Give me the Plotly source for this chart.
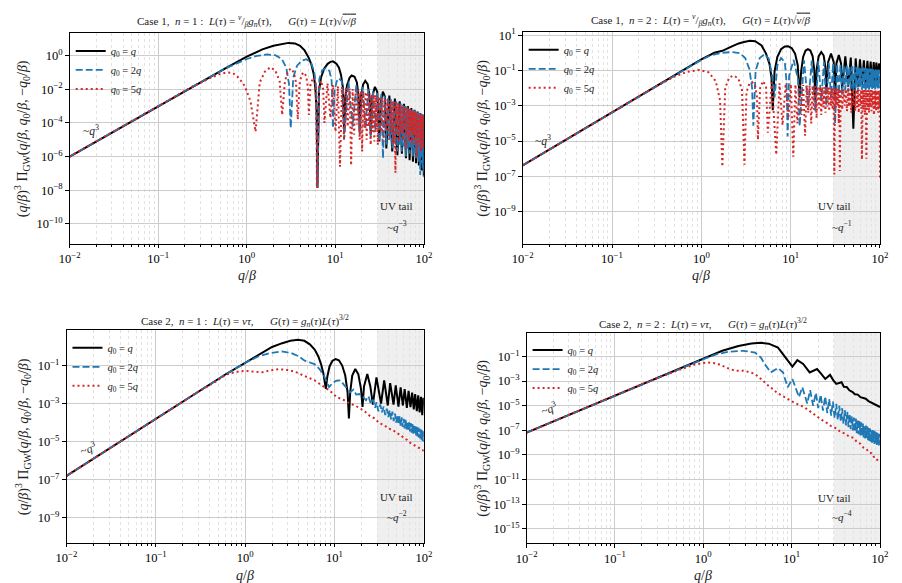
import plotly.graph_objects as go

# ---------------- data ----------------
# Panel 1: Case 1, n = 1
P1_BLACK_X = [0.01, 0.03, 0.1, 0.3, 0.6, 1.0, 1.5, 2.0, 2.5, 2.95, 3.5, 4.0, 4.5, 5.0, 5.36, 5.7, 5.95, 6.15, 6.28,
              6.55, 6.9, 7.5, 8.2, 8.8, 9.4, 10.3, 11.0, 11.6, 12.2, 12.57,
              13.0, 13.6, 14.5, 15.3, 16.5, 17.5, 18.3, 18.85,
              19.6, 20.6, 21.8, 23.2, 24.4, 25.13,
              26.2, 28.0, 29.8, 31.4, 32.6, 34.5, 36.4, 37.7,
              40.8, 44.0, 47.1, 50.3, 53.4, 56.5, 59.7, 62.8, 66.0, 69.1, 72.3, 75.4, 78.6, 81.7, 84.9, 88.0, 91.2, 94.2, 97.4, 100]
P1_BLACK_Y = [1e-6, 2.7e-5, 1e-3, 2.6e-2, 0.2, 0.85, 2.3, 3.8, 5.0, 5.6, 5.2, 3.8, 2.0, 0.75, 0.3, 0.08, 0.012, 5e-4, 1.4e-8,
              0.008, 0.05, 0.17, 0.32, 0.42, 0.45, 0.33, 0.19, 0.07, 0.012, 2.5e-5,
              0.0035, 0.018, 0.048, 0.065, 0.055, 0.026, 0.0045, 4e-5,
              0.004, 0.019, 0.031, 0.02, 0.0035, 2e-5,
              0.0037, 0.0138, 0.007, 8e-6, 0.0018, 0.0072, 0.0035, 3e-6,
              4.2e-3, 2e-6, 2.8e-3, 1.2e-6, 1.9e-3, 1.5e-6, 1.35e-3, 8e-7, 1.0e-3, 6e-7, 7.6e-4, 5e-7, 5.9e-4, 4e-7, 4.7e-4, 3e-7, 3.8e-4, 1.5e-7, 3.1e-4, 7e-8]

P1_BLUE_X = [0.01, 0.1, 0.3, 0.6, 0.8, 1.0, 1.3, 1.7, 2.1, 2.5, 2.8, 3.0, 3.14,
             3.35, 3.7, 4.2, 4.7, 5.3, 5.8, 6.1, 6.28,
             6.6, 7.1, 7.85, 8.6, 9.1, 9.42,
             9.8, 10.4, 11.0, 11.8, 12.3, 12.57,
             14.1, 15.7, 17.3, 18.85, 20.4, 22.0, 23.6, 25.1, 26.7, 28.3, 29.8, 31.4, 33.0, 34.6, 36.1, 37.7, 39.3, 40.8,
             42.4, 44.0, 45.6, 47.1, 48.7, 50.3, 51.8, 53.4, 55.0, 56.5, 58.1, 59.7, 61.3, 62.8, 64.4, 66.0, 67.5, 69.1,
             70.7, 72.3, 73.8, 75.4, 77.0, 78.5, 80.1, 81.7, 83.3, 84.8, 86.4, 88.0, 89.5, 91.1, 92.7, 94.2, 95.8, 97.4,
             99.0, 100]
P1_BLUE_Y = [1e-6, 1e-3, 2.6e-2, 0.19, 0.38, 0.62, 0.95, 1.15, 1.05, 0.6, 0.18, 0.02, 5e-5,
             0.05, 0.25, 0.5, 0.6, 0.4, 0.1, 0.01, 1.5e-8,
             0.04, 0.13, 0.18, 0.12, 0.03, 5e-5,
             0.008, 0.03, 0.045, 0.03, 0.006, 1e-5,
             0.028, 6e-5, 0.019, 2e-5, 0.0135, 5e-5, 0.01, 1.5e-5, 0.0079, 3e-5, 0.0063, 8e-6, 0.005, 8e-7, 0.004, 5e-6, 0.0032, 1e-5,
             0.0026, 3e-6, 0.0022, 6e-6, 0.0019, 2e-6, 0.0016, 5e-6, 0.0014, 2e-6, 0.0012, 4e-6, 0.00105, 1e-6, 0.00092, 3e-6, 0.00081, 1.5e-6,
             0.00072, 3e-6, 0.00065, 1e-6, 0.00058, 2e-6, 0.00052, 8e-7, 0.00047, 1.5e-6, 0.00043, 5e-7, 0.00039, 8e-8, 0.00035, 4e-7, 0.00032, 2e-7,
             0.0003, 6e-8]

P1_RED_X = [0.01, 0.1, 0.25, 0.4, 0.5, 0.6, 0.7, 0.82, 0.95, 1.1, 1.2, 1.257,
            1.4, 1.6, 1.85, 2.1, 2.35, 2.51,
            2.7, 2.9, 3.14, 3.4, 3.6, 3.77,
            3.95, 4.15, 4.4, 4.7, 4.9, 5.03,
            5.25, 5.65, 6.0, 6.28,
            6.5, 6.9, 7.3, 7.54,
            8.17, 8.8, 9.42, 10.05, 10.7, 11.3, 11.9, 12.57, 13.2, 13.8, 14.5, 15.1, 15.7, 16.3, 17.0, 17.6, 18.2, 18.85,
            19.5, 20.1, 20.7, 21.4, 22.0, 22.6, 23.2, 23.9, 24.5, 25.1, 25.8, 26.4, 27.0, 27.6, 28.3, 28.9, 29.5, 30.2,
            31.4, 32.7, 33.9, 35.2, 36.4, 37.7, 38.9, 40.2, 41.5, 42.7, 44.0, 45.2, 46.5, 47.8, 49.0, 50.3, 51.5, 52.8,
            54.0, 55.3, 56.5, 57.8, 59.1, 60.3, 61.6, 62.8, 64.1, 65.3, 66.6, 67.9, 69.1, 70.4, 71.6, 72.9, 74.1, 75.4,
            76.7, 77.9, 79.2, 80.4, 81.7, 82.9, 84.2, 85.5, 86.7, 88.0, 89.2, 90.5, 91.7, 93.0, 94.2, 95.5, 96.8, 98.0,
            99.3, 100]
P1_RED_Y = [1e-6, 1e-3, 0.0155, 0.05, 0.08, 0.1, 0.09, 0.045, 0.015, 0.002, 1.5e-4, 3e-5,
            0.025, 0.11, 0.2, 0.13, 0.03, 3e-4,
            0.03, 0.11, 0.17, 0.1, 0.025, 1.6e-4,
            0.02, 0.07, 0.1, 0.06, 0.012, 3e-4,
            0.02, 0.05, 0.02, 1.4e-8,
            0.012, 0.032, 0.01, 1e-4,
            0.022, 2e-4, 0.018, 3e-5, 0.015, 2.5e-7, 0.0135, 1e-5, 0.0122, 6e-5, 0.011, 3e-7, 0.0102, 2e-5, 0.0095, 8e-5, 0.0088, 1e-5,
            0.0082, 2e-6, 0.0076, 5e-5, 0.007, 1e-5, 0.0064, 6e-5, 0.0058, 5e-6, 0.0053, 3e-5, 0.0049, 8e-6, 0.0045, 4e-5, 0.0041, 5e-6,
            3.6e-3, 3e-5, 3.2e-3, 8e-6, 2.8e-3, 4e-5, 2.5e-3, 1e-5, 2.2e-3, 3e-5, 1.95e-3, 6e-6, 1.75e-3, 1.1e-7, 1.55e-3, 2e-5, 1.4e-3, 8e-6,
            1.25e-3, 3e-5, 1.12e-3, 1e-5, 1.0e-3, 4e-5, 9e-4, 3e-6, 8.2e-4, 2e-5, 7.4e-4, 8e-6, 6.7e-4, 3e-5, 6.1e-4, 5e-6, 5.6e-4, 2e-5,
            5.1e-4, 6e-6, 4.7e-4, 2e-5, 4.3e-4, 1e-6, 4.0e-4, 1.5e-5, 3.7e-4, 4e-6, 3.4e-4, 1e-5, 3.2e-4, 2e-6, 3.0e-4, 8e-6, 2.8e-4, 3e-6,
            2.6e-4, 5e-5]

# Panel 2: Case 1, n = 2
P2_BLACK_X = [0.01, 0.1, 0.3, 0.6, 1.0, 1.4, 1.72, 2.2, 2.62, 3.0, 3.5, 4.0, 4.72, 5.3, 5.8, 6.1, 6.3,
              6.6, 7.1, 7.8, 8.6, 9.4, 10.3, 11.2, 12.0, 12.57,
              13.1, 13.8, 14.7, 15.6, 16.6, 17.6, 18.4, 18.85,
              19.6, 20.6, 22.0, 23.4, 24.5, 25.13,
              26.3, 28.3, 30.3, 31.4, 32.5, 34.6, 36.6, 37.7,
              40.9, 44.0, 47.1, 50.3, 53.4, 56.5, 59.7, 62.8, 66.0, 69.1, 72.3, 75.4, 78.6, 81.7, 85.0, 88.0, 91.1, 94.2, 97.4, 100]
P2_BLACK_Y = [4.2e-7, 4.2e-4, 1.13e-2, 0.09, 0.42, 1.0, 1.3, 2.3, 3.4, 4.1, 4.8, 4.5, 2.6, 0.9, 0.23, 0.04, 5.6e-4,
              0.09, 0.6, 1.6, 2.3, 2.35, 1.8, 0.9, 0.2, 3e-3,
              0.09, 0.6, 1.35, 1.6, 1.35, 0.65, 0.1, 2e-3,
              0.13, 0.65, 1.1, 0.7, 0.15, 6e-3,
              0.3, 0.9, 0.3, 2.5e-3, 0.25, 0.74, 0.25, 1e-2,
              0.63, 1.2e-2, 0.54, 5e-5, 0.48, 1.2e-2, 0.43, 1.5e-2, 0.38, 1e-2, 0.35, 2e-2, 0.32, 1.5e-2, 0.3, 2.5e-2, 0.28, 2e-2, 0.25, 0.1]

P2_BLUE_X = [0.01, 0.1, 0.3, 0.6, 1.0, 1.3, 1.7, 2.2, 2.7, 3.1, 3.45, 3.7, 3.82,
             4.05, 4.5, 5.1, 5.7, 6.2, 6.6,
             7.1, 7.8, 8.6, 9.0, 9.25,
             9.6, 10.8, 12.1, 12.6,
             14.1, 15.7, 17.2, 18.9, 20.4, 22.0, 23.6, 25.1, 26.7, 28.3, 29.9, 31.4, 33.0, 34.6, 36.1, 37.7, 39.3, 40.8,
             42.4, 44.0, 45.6, 47.1, 48.7, 50.3, 51.8, 53.4, 55.0, 56.5, 58.1, 59.7, 61.3, 62.8, 64.4, 66.0, 67.5, 69.1,
             70.7, 72.3, 73.8, 75.4, 77.0, 78.5, 80.1, 81.7, 83.3, 84.8, 86.4, 88.0, 89.5, 91.1, 92.7, 94.2, 95.8, 97.4,
             99.0, 100]
P2_BLUE_Y = [4.2e-7, 4.2e-4, 1.13e-2, 0.09, 0.4, 0.75, 1.0, 1.1, 0.95, 0.5, 0.12, 0.01, 7.5e-5,
             0.1, 0.5, 0.85, 0.45, 0.05, 3e-3,
             0.2, 0.5, 0.3, 0.02, 1.8e-5,
             0.05, 0.4, 0.03, 7e-5,
             0.38, 1e-3, 0.36, 5e-4, 0.35, 2e-3, 0.3, 1e-3, 0.27, 3e-3, 0.25, 1e-4, 0.23, 5e-3, 0.21, 4e-3, 0.2, 8e-3,
             0.19, 6e-3, 0.18, 9e-3, 0.175, 7e-3, 0.17, 1e-2, 0.16, 6e-3, 0.155, 1e-2, 0.15, 8e-3, 0.145, 1e-2, 0.14, 7e-3,
             0.135, 1e-2, 0.13, 8e-3, 0.128, 1.1e-2, 0.125, 9e-3, 0.122, 1e-2, 0.12, 8e-3, 0.118, 1e-2, 0.115, 9e-3, 0.112, 1e-2,
             0.11, 0.03]

P2_RED_X = [0.01, 0.1, 0.3, 0.5, 0.7, 0.95, 1.2, 1.45, 1.62, 1.72,
            1.85, 2.05, 2.3, 2.6, 2.85, 3.04,
            3.2, 3.45, 3.7, 4.0, 4.2, 4.3,
            4.55, 4.9, 5.3, 5.55,
            6.15, 6.9, 7.5, 8.1, 8.8, 9.4, 10.05, 10.7, 11.3, 11.9, 12.6, 13.2, 13.8, 14.5, 15.1, 15.7, 16.3, 17.0,
            17.6, 18.2, 18.9, 19.5, 20.1, 20.8, 21.4, 22.0, 22.6, 23.3, 23.9, 24.5, 25.1, 25.8, 26.4, 27.0, 27.7, 28.3,
            28.9, 29.5, 30.2, 30.8, 31.4, 32.1, 32.7, 33.3, 34.0, 34.6, 35.2, 35.5,
            36.4, 37.7, 39.0, 40.2, 41.5, 42.7, 44.0, 45.2, 46.5, 47.7, 49.0, 50.3, 51.5, 52.8, 54.0, 55.3, 56.5, 57.8,
            59.0, 60.3, 61.6, 62.8, 64.1, 65.3, 66.6, 67.8, 69.1, 70.4, 71.6, 72.9, 74.1, 75.4, 76.6, 77.9, 79.2, 80.4,
            81.7, 82.9, 84.2, 85.5, 86.7, 88.0, 89.2, 90.5, 91.7, 93.0, 94.2, 95.5, 96.8, 98.0, 99.3, 100]
P2_RED_Y = [4.2e-7, 4.2e-4, 1.13e-2, 0.045, 0.085, 0.107, 0.08, 0.025, 0.002, 3.6e-7,
            0.01, 0.04, 0.051, 0.035, 0.008, 4.6e-7,
            0.006, 0.018, 0.022, 0.014, 0.003, 1.2e-5,
            0.01, 0.025, 0.012, 3e-5,
            0.021, 1.7e-6, 0.019, 8e-5, 0.018, 2e-4, 0.017, 1.3e-6, 0.016, 1e-4, 0.0155, 3e-4, 0.015, 2e-5, 0.0145, 4e-4, 0.014, 1e-4,
            0.0135, 6e-4, 0.013, 2e-4, 0.0125, 7e-4, 0.012, 3e-4, 0.0117, 8e-4, 0.0114, 4e-4, 0.011, 9e-4, 0.0107, 5e-4, 0.0104, 1e-3,
            0.0101, 6e-4, 0.0098, 1.3e-7, 0.0096, 8e-4, 0.0094, 1e-3, 0.0092, 1e-4, 0.009, 2e-7,
            0.0089, 6e-4, 0.0088, 1e-3, 0.0087, 5e-4, 0.0086, 9e-4, 0.0085, 4e-4, 0.0084, 1e-3, 0.0083, 5e-4, 0.0082, 8e-4, 0.0082, 4e-4,
            0.0081, 1e-3, 0.008, 9e-7, 0.008, 6e-4, 0.0079, 3e-4, 0.0079, 1e-6, 0.0078, 7e-4, 0.0078, 4e-4, 0.0077, 9e-4, 0.0077, 5e-4,
            0.0076, 1e-3, 0.0076, 3e-4, 0.0075, 8e-4, 0.0075, 5e-4, 0.0074, 1e-3, 0.0074, 4e-4, 0.0073, 7e-4, 0.0073, 8e-8]

# Panel 3: Case 2, n = 1
P3_BLACK_X = [0.01, 0.1, 0.3, 0.6, 1.0, 1.5, 2.0, 2.6, 3.2, 3.9, 4.6, 5.3, 6.0, 6.6, 7.07, 7.5, 7.8, 8.0,
              8.3, 8.8, 9.5, 10.3, 11.2, 12.2, 13.2, 14.0, 14.5,
              15.0, 15.8, 17.1, 18.5, 19.8, 20.6,
              21.4, 23.3, 25.2, 26.9,
              29.5, 33.2, 36.0, 39.5, 42.0, 45.8, 48.5, 52.0, 55.0, 58.3, 61.0, 64.6, 67.5, 70.9, 74.0, 77.2, 80.0, 83.5,
              86.5, 89.8, 93.0, 96.1, 99.0, 100]
P3_BLACK_Y = [1.6e-7, 1.6e-4, 4.3e-3, 0.034, 0.14, 0.45, 0.95, 1.5, 2.0, 2.24, 2.0, 1.3, 0.7, 0.3, 0.12, 0.04, 0.012, 6e-3,
              0.025, 0.09, 0.18, 0.22, 0.19, 0.1, 0.03, 4e-3, 1.7e-4,
              4e-3, 0.03, 0.066, 0.035, 6e-3, 6.8e-4,
              8e-3, 0.036, 8e-3, 9e-4,
              0.024, 1e-3, 0.0166, 8e-4, 0.012, 9e-4, 0.0091, 7e-4, 0.0072, 8e-4, 0.0058, 6e-4, 0.0047, 6.5e-4, 0.0038, 5e-4, 0.0032, 4e-4,
              0.0027, 3.5e-4, 0.0023, 2.5e-4, 0.002, 1e-3]

P3_BLUE_X = [0.01, 0.1, 0.3, 0.6, 1.0, 1.4, 1.9, 2.58, 3.3, 4.0, 4.64, 5.3, 5.97, 6.8, 7.6, 8.7, 9.5, 10.5, 11.7, 12.7,
             13.8, 15.0, 16.3, 17.5, 19.0, 21.0,
             22.5, 24.0, 25.5, 27.0, 28.5, 29.5, 31.0, 32.5, 34.0, 35.5, 37.0, 38.5, 40.0, 41.5, 43.0, 44.5, 46.0, 47.5,
             49.0, 50.5, 52.0, 53.5, 55.0, 56.5, 58.0, 59.5, 61.0, 62.5, 64.0, 65.5, 67.0, 68.5, 70.0, 71.5, 73.0, 74.5,
             76.0, 77.5, 79.0, 80.5, 82.0, 83.5, 85.0, 86.5, 88.0, 89.5, 91.0, 92.5, 94.0, 95.5, 97.0, 98.5, 100]
P3_BLUE_Y = [1.6e-7, 1.6e-4, 4.3e-3, 0.034, 0.14, 0.3, 0.45, 0.55, 0.45, 0.3, 0.18, 0.14, 0.12, 0.066, 0.03, 7.4e-3, 0.012, 0.016, 0.0166, 0.01,
             6.3e-3, 4e-3, 5.5e-3, 3e-3, 3.2e-3, 2.2e-3,
             1.5e-3, 2.5e-3, 1e-3, 1.6e-3, 6e-4, 1.2e-3, 4e-4, 9e-4, 3.5e-4, 7e-4, 2.5e-4, 5.5e-4, 2e-4, 4.5e-4, 1.5e-4, 3.8e-4, 1.2e-4, 3e-4,
             1e-4, 2.6e-4, 8e-5, 2.2e-4, 7e-5, 1.9e-4, 6e-5, 1.6e-4, 5e-5, 1.4e-4, 4.5e-5, 1.2e-4, 4e-5, 1.05e-4, 3.5e-5, 9.5e-5, 3e-5, 8.5e-5,
             2.7e-5, 7.5e-5, 2.4e-5, 6.8e-5, 2.1e-5, 6e-5, 1.9e-5, 5.5e-5, 1.7e-5, 5e-5, 1.5e-5, 4.5e-5, 1.3e-5, 4e-5, 1.1e-5, 3.5e-5, 1e-5]

P3_RED_X = [0.01, 0.1, 0.3, 0.44, 0.62, 0.86, 1.02, 1.3, 1.56, 1.9, 2.37, 3.0, 3.6, 4.5, 5.5, 6.0, 7.0, 8.2, 9.0, 10.6,
            12.6, 15.0, 17.0, 19.4, 22.0, 25.0, 28.0, 32.0, 36.0, 40.0, 45.0, 50.0, 55.0, 60.0, 65.0, 70.0, 75.0, 80.0, 85.0, 90.0,
            95.0, 100]
P3_RED_Y = [1.6e-7, 1.6e-4, 4.3e-3, 0.012, 0.035, 0.05, 0.053, 0.047, 0.045, 0.055, 0.065, 0.058, 0.048, 0.03, 0.02, 0.0166, 0.01, 6.3e-3, 4.5e-3, 2.2e-3,
            1.6e-3, 1e-3, 8e-4, 5.6e-4, 3.8e-4, 2.2e-4, 1.7e-4, 9.3e-5, 7.5e-5, 5e-5, 4.2e-5, 2.8e-5, 2.3e-5, 1.5e-5, 1.25e-5, 9e-6, 7.5e-6, 6e-6, 5e-6, 4.5e-6,
            3.6e-6, 3.5e-6]

# Panel 4: Case 2, n = 2
P4_BLACK_X = [0.01, 0.1, 0.3, 0.6, 1.0, 1.64, 2.5, 3.5, 4.5, 5.5, 7.0, 8.6, 10.2, 11.6, 13.5, 16.0, 19.4, 21.5, 24.0, 27.2,
              29.5, 32.0, 36.7, 39.0, 42.0, 45.0, 49.0, 52.0, 56.0, 60.0, 64.0, 69.0, 74.0, 80.0, 86.0, 93.0, 100]
P4_BLACK_Y = [6.6e-8, 6.6e-5, 1.8e-3, 0.014, 0.062, 0.29, 0.72, 1.15, 1.3, 1.1, 0.52, 0.083, 0.015, 0.05, 0.025, 5.1e-3, 9.5e-3, 4e-3, 1.5e-3, 3.2e-3,
              1.2e-3, 6e-4, 8.1e-4, 3.5e-4, 3.3e-4, 1.8e-4, 1.3e-4, 8.5e-5, 8e-5, 5e-5, 4.6e-5, 3.7e-5, 2.4e-5, 1.8e-5, 1.3e-5, 1e-5, 7.9e-6]

P4_BLUE_X = [0.01, 0.1, 0.3, 0.6, 1.0, 1.4, 2.0, 2.85, 3.85, 4.5, 4.96, 5.8, 7.0, 8.0, 9.0, 10.2, 12.1, 13.2, 15.0,
             16.2, 17.5, 18.8, 20.0, 21.3, 22.6, 24.0, 25.3, 26.6, 28.0, 29.3, 30.6, 32.0, 33.3, 34.6, 36.0, 37.3, 38.6,
             40.0, 41.3, 42.6, 44.0, 45.3, 46.6, 48.0, 49.3, 50.6, 52.0, 53.3, 54.6, 56.0, 57.3, 58.6, 60.0, 61.3, 62.6,
             64.0, 65.3, 66.6, 68.0, 69.3, 70.6, 72.0, 73.3, 74.6, 76.0, 77.3, 78.6, 80.0, 81.3, 82.6, 84.0, 85.3, 86.6,
             88.0, 89.3, 90.6, 92.0, 93.3, 94.6, 96.0, 97.3, 98.6, 100]
P4_BLUE_Y = [6.6e-8, 6.6e-5, 1.8e-3, 0.014, 0.06, 0.15, 0.25, 0.29, 0.21, 0.08, 0.024, 5.1e-3, 0.0115, 5e-3, 3.2e-4, 1.5e-3, 5.1e-5, 3.2e-4, 1.5e-5,
             1.8e-4, 1e-5, 1.1e-4, 6.3e-6, 8e-5, 4e-6, 5.6e-5, 2.5e-6, 3.5e-5, 1.6e-6, 2.2e-5, 1e-6, 1.4e-5, 7e-7, 1e-5, 5e-7, 6.3e-6, 3.5e-7,
             4.5e-6, 2.5e-7, 3.2e-6, 1.8e-7, 2.2e-6, 1.25e-7, 1.4e-6, 1e-7, 1.1e-6, 7.6e-8, 9e-7, 6e-8, 7e-7, 4.8e-8, 5.6e-7, 3.8e-8, 4.5e-7, 3.2e-8,
             3.5e-7, 2.6e-8, 2.8e-7, 2.2e-8, 2.5e-7, 1.9e-8, 2e-7, 1.6e-8, 1.7e-7, 1.35e-8, 1.4e-7, 1.2e-8, 1.2e-7, 1e-8, 1.05e-7, 9e-9, 9e-8, 8e-9,
             8e-8, 7.2e-9, 7e-8, 6.6e-9, 6.3e-8, 6.3e-9, 5.8e-8, 6e-9, 5.2e-8, 1e-8]

P4_RED_X = [0.01, 0.1, 0.33, 0.59, 0.8, 1.1, 1.4, 1.64, 2.0, 2.31, 2.85, 3.3, 3.85, 4.5, 5.4, 7.0, 9.0, 11.0, 13.8, 16.0,
            19.4, 22.0, 25.0, 28.0, 32.0, 36.0, 40.0, 45.0, 50.0, 55.0, 60.0, 65.0, 70.0, 75.0, 80.0, 85.0, 90.0, 95.0, 100]
P4_RED_Y = [6.6e-8, 6.6e-5, 2.4e-3, 0.0105, 0.022, 0.033, 0.028, 0.018, 0.0095, 7e-3, 7e-3, 5.5e-3, 3.8e-3, 1.5e-3, 4.5e-4, 1e-4, 3.7e-5, 1.6e-5, 7.9e-6, 3.5e-6,
            1.26e-6, 7e-7, 4e-7, 2.2e-7, 1.45e-7, 7e-8, 5.6e-8, 3e-8, 2.5e-8, 1.1e-8, 8e-9, 4e-9, 3.2e-9, 1.6e-9, 1.4e-9, 7e-10, 6.3e-10, 3e-10, 3.5e-10]

SERIES_NAMES = ["<i>q</i><sub>0</sub> = <i>q</i>", "<i>q</i><sub>0</sub> = 2<i>q</i>", "<i>q</i><sub>0</sub> = 5<i>q</i>"]
X_TICK_EXP = [-2, -1, 0, 1, 2]
UV_BAND = [30, 100]

PANEL_TITLES = [
    "Case 1,\u2002<i>n</i> = 1 :\u2002<i>L</i>(<i>τ</i>) = <sup><i>v</i></sup>/<sub><i>β</i></sub><i>g</i><sub><i>n</i></sub>(<i>τ</i>),\u2003\u2002<i>G</i>(<i>τ</i>) = <i>L</i>(<i>τ</i>)√<span style='text-decoration:overline'><i>v</i>/<i>β</i></span>",
    "Case 1,\u2002<i>n</i> = 2 :\u2002<i>L</i>(<i>τ</i>) = <sup><i>v</i></sup>/<sub><i>β</i></sub><i>g</i><sub><i>n</i></sub>(<i>τ</i>),\u2003\u2002<i>G</i>(<i>τ</i>) = <i>L</i>(<i>τ</i>)√<span style='text-decoration:overline'><i>v</i>/<i>β</i></span>",
    "Case 2,\u2002<i>n</i> = 1 :\u2002<i>L</i>(<i>τ</i>) = <i>vτ</i>,\u2003\u2002<i>G</i>(<i>τ</i>) = <i>g</i><sub><i>n</i></sub>(<i>τ</i>)<i>L</i>(<i>τ</i>)<sup>3/2</sup>",
    "Case 2,\u2002<i>n</i> = 2 :\u2002<i>L</i>(<i>τ</i>) = <i>vτ</i>,\u2003\u2002<i>G</i>(<i>τ</i>) = <i>g</i><sub><i>n</i></sub>(<i>τ</i>)<i>L</i>(<i>τ</i>)<sup>3/2</sup>",
]
UV_SLOPES = ["−3", "−1", "−2", "−4"]
Y_TICK_EXP = [[0, -2, -4, -6, -8, -10], [1, -1, -3, -5, -7, -9], [-1, -3, -5, -7, -9],
              [-1, -3, -5, -7, -9, -11, -13, -15]]

DATA = [
    [(P1_BLACK_X, P1_BLACK_Y), (P1_BLUE_X, P1_BLUE_Y), (P1_RED_X, P1_RED_Y)],
    [(P2_BLACK_X, P2_BLACK_Y), (P2_BLUE_X, P2_BLUE_Y), (P2_RED_X, P2_RED_Y)],
    [(P3_BLACK_X, P3_BLACK_Y), (P3_BLUE_X, P3_BLUE_Y), (P3_RED_X, P3_RED_Y)],
    [(P4_BLACK_X, P4_BLACK_Y), (P4_BLUE_X, P4_BLUE_Y), (P4_RED_X, P4_RED_Y)],
]

# ---------------- layout / style ----------------
W, H = 902, 583
FONT = "Liberation Serif"
COLORS = ["#000000", "#1f77b4", "#d62728"]
DASHES = ["solid", "7px,3px", "2px,3px"]
WIDTHS = [2.0, 1.8, 2.0]

# plot-area boxes in pixels: (left, right, top, bottom), and log10 y ranges
BOXES = [(60, 421.7, 27.7, 240), (522.7, 887.7, 26.6, 240),
         (56.7, 421.7, 327.7, 542.3), (526.7, 887.7, 330, 542.7)]
YRANGES = [[-11.16, 1.31], [-10.8, 1.16], [-10.3, 0.85], [-16.16, 0.94]]
TITLE_Y = [15, 14, 318, 321]
XTITLE_Y = [272, 272, 575, 575]
YTITLE_X = [12, 481, 12, 481]
Q3_POS = [(82, 126, 0), (543, 136, 0), (79, 447, -18), (550, 407, -18)]


def px(x):
    return x / W


def py(y):
    return 1 - y / H


def pow_label(e):
    return "10<sup>" + ("−" if e < 0 else "") + str(abs(e)) + "</sup>"


fig = go.Figure()
minor_vals = [m * 10.0 ** k for k in (-2, -1, 0, 1) for m in range(2, 10)]
annotations = []
shapes = []
GRID = "#cccccc"

for i in range(4):
    s = "" if i == 0 else str(i + 1)
    l, r, t, b = BOXES[i]
    leg = "legend" if i == 0 else f"legend{i + 1}"
    for j, (xs, ys) in enumerate(DATA[i]):
        fig.add_trace(go.Scatter(
            x=xs, y=ys, mode="lines", name=SERIES_NAMES[j],
            line=dict(color=COLORS[j], width=WIDTHS[j], dash=DASHES[j]),
            xaxis="x" + s, yaxis="y" + s, legend=leg, showlegend=True,
            hoverinfo="skip"))
    axis_common = dict(
        type="log", showline=True, linecolor="black", linewidth=1, mirror=True,
        ticks="outside", ticklen=3.5, tickcolor="black", zeroline=False,
        showgrid=True, gridcolor=GRID, gridwidth=1,
        tickfont=dict(family=FONT, size=12.5, color="black"))
    fig.update_layout(**{
        "xaxis" + s: dict(axis_common, domain=[px(l), px(r)], anchor="y" + s, range=[-2, 2],
                          tickvals=[10.0 ** e for e in X_TICK_EXP],
                          ticktext=[pow_label(e) for e in X_TICK_EXP],
                          minor=dict(tickvals=minor_vals, showgrid=True, griddash="dot",
                                     gridcolor="#e2e2e2", gridwidth=0.8, ticks="outside",
                                     ticklen=2, tickcolor="black")),
        "yaxis" + s: dict(axis_common, domain=[py(b), py(t)], anchor="x" + s, range=YRANGES[i],
                          tickvals=[10.0 ** e for e in Y_TICK_EXP[i]],
                          ticktext=[pow_label(e) for e in Y_TICK_EXP[i]]),
        leg: dict(x=px(l + 1), y=py(t + 3), xanchor="left", yanchor="top",
                  bgcolor="rgba(0,0,0,0)", borderwidth=0, tracegroupgap=0,
                  itemwidth=30, font=dict(family=FONT, size=10.5, color="#222")),
    })
    shapes.append(dict(type="rect", xref="x" + s, yref=f"y{s} domain",
                       x0=UV_BAND[0], x1=UV_BAND[1], y0=0, y1=1,
                       fillcolor="#efefef", line=dict(width=0), layer="below"))
    cx = (l + r) / 2
    annotations += [
        dict(text=PANEL_TITLES[i], x=px(cx), y=py(TITLE_Y[i]), xref="paper", yref="paper",
             showarrow=False, xanchor="center", yanchor="middle",
             font=dict(family=FONT, size=11, color="#222")),
        dict(text="<i>q</i>/<i>β</i>", x=px(cx), y=py(XTITLE_Y[i]), xref="paper", yref="paper",
             showarrow=False, xanchor="center", yanchor="middle",
             font=dict(family=FONT, size=14, color="#222")),
        dict(text="(<i>q</i>/<i>β</i>)<sup>3</sup> Π<sub>GW</sub>(<i>q</i>/<i>β</i>, <i>q</i><sub>0</sub>/<i>β</i>, −<i>q</i><sub>0</sub>/<i>β</i>)",
             x=px(YTITLE_X[i]), y=py((t + b) / 2), xref="paper", yref="paper",
             showarrow=False, xanchor="center", yanchor="middle", textangle=-90,
             font=dict(family=FONT, size=14, color="#222")),
        dict(text="~<i>q</i><sup>3</sup>", x=px(Q3_POS[i][0]), y=py(Q3_POS[i][1]),
             xref="paper", yref="paper", showarrow=False, textangle=Q3_POS[i][2],
             xanchor="center", yanchor="middle",
             font=dict(family=FONT, size=11.5, color="#222")),
        dict(text="UV tail", x=px(r - 28), y=py(b - 38), xref="paper", yref="paper",
             showarrow=False, font=dict(family=FONT, size=11, color="#222")),
        dict(text="~<i>q</i><sup>" + UV_SLOPES[i] + "</sup>", x=px(r - 27), y=py(b - 18),
             xref="paper", yref="paper", showarrow=False,
             font=dict(family=FONT, size=11, color="#222")),
    ]

fig.update_layout(
    width=W, height=H, margin=dict(l=0, r=0, t=0, b=0),
    paper_bgcolor="white", plot_bgcolor="white",
    annotations=annotations, shapes=shapes,
    font=dict(family=FONT, color="#222"),
)

fig.write_html("out.html")
